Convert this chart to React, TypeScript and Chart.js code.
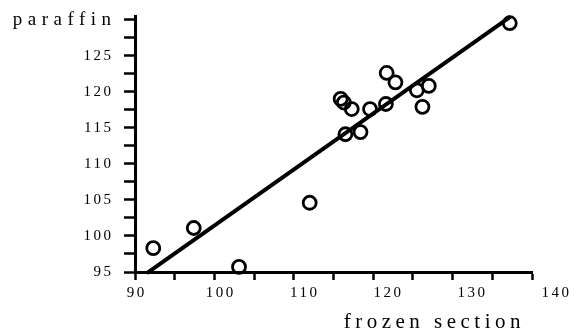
import React, { useEffect, useRef } from "react";
import { Chart, registerables } from "chart.js";

Chart.register(...registerables);

// ---- data ----
const frozenSection = [92.3, 97.4, 103.1, 112.0, 121.7, 122.8, 115.9, 116.3, 117.3, 119.6, 121.6, 125.5, 127.0, 126.2, 116.5, 118.4, 137.2];
const paraffin = [98.3, 101.1, 95.7, 104.6, 122.6, 121.3, 119.0, 118.5, 117.6, 117.6, 118.3, 120.2, 120.8, 117.9, 114.1, 114.4, 129.5];
const fitLineX = [91.5, 137.3];
const fitLineY = [94.85, 130.4];
const xTickValues = [90, 95, 100, 105, 110, 115, 120, 125, 130, 135, 140];
const xLabelValues = [90, 100, 110, 120, 130, 140];
const yTickValues = [95, 97.5, 100, 102.5, 105, 107.5, 110, 112.5, 115, 117.5, 120, 122.5, 125, 127.5, 130];
const yTopLabel = "paraffin";
const xTitle = "frozen section";

const FONT = "'Liberation Serif', 'Times New Roman', serif";

export default function App() {
  const ref = useRef<HTMLCanvasElement | null>(null);

  useEffect(() => {
    document.body.style.margin = "0";
    const canvas = ref.current!;
    const ctx = canvas.getContext("2d") as any;
    const origFill = ctx.fillText;
    ctx.fillText = function (text: string, x: number, y: number, maxWidth?: number) {
      const m = /(\d+(?:\.\d+)?)px/.exec(ctx.font);
      const size = m ? parseFloat(m[1]) : 12;
      const sp = size >= 20 ? 4.5 : size >= 17 ? 5.5 : 2.5;
      let dx = 0;
      if (size < 20) {
        if (ctx.textAlign === "right" || ctx.textAlign === "end") dx = sp;
        else if (ctx.textAlign === "center") dx = sp / 2;
      } else {
        dx = -7;
      }
      const prev = ctx.letterSpacing;
      ctx.letterSpacing = sp + "px";
      if (maxWidth === undefined) origFill.call(ctx, text, x + dx, y);
      else origFill.call(ctx, text, x + dx, y, maxWidth);
      ctx.letterSpacing = prev;
    };

    const points = frozenSection.map((v, i) => ({ x: v, y: paraffin[i] }));
    const line = fitLineX.map((v, i) => ({ x: v, y: fitLineY[i] }));

    const chart = new Chart(canvas, {
      type: "scatter",
      data: {
        datasets: [
          {
            data: points,
            xAxisID: "x",
            yAxisID: "y",
            pointStyle: "circle",
            pointRadius: 6.5,
            borderWidth: 2.8,
            borderColor: "#000",
            backgroundColor: "rgba(0,0,0,0)",
            clip: false as any,
          },
          {
            data: line,
            xAxisID: "x",
            yAxisID: "y",
            showLine: true,
            pointRadius: 0,
            borderWidth: 4,
            borderColor: "#000",
            backgroundColor: "#000",
            clip: false as any,
          },
        ],
      },
      options: {
        animation: false,
        responsive: false,
        layout: { padding: { left: 0, right: 43, top: 16, bottom: 0 } },
        plugins: { legend: { display: false }, tooltip: { enabled: false } },
        scales: {
          x: {
            type: "linear",
            position: "bottom",
            weight: 0,
            min: 90,
            max: 140,
            afterBuildTicks: (s: any) => {
              s.ticks = xTickValues.map((v) => ({ value: v }));
            },
            afterFit: (s: any) => {
              s.height = 10;
            },
            ticks: { display: false },
            grid: { drawOnChartArea: false, drawTicks: true, tickLength: 8, tickWidth: 2.5, color: "#000" },
            border: { display: true, width: 3, color: "#000" },
          },
          x2: {
            type: "linear",
            position: "bottom",
            axis: "x",
            weight: 1,
            min: 89.94,
            max: 137.23,
            afterBuildTicks: (s: any) => {
              s.ticks = xLabelValues.map((v) => ({ value: v }));
            },
            afterFit: (s: any) => {
              s.height = 50;
              s.paddingLeft = 0;
              s.paddingRight = 0;
            },
            ticks: {
              autoSkip: false,
              maxRotation: 0,
              padding: 2,
              color: "#000",
              font: { family: FONT, size: 15 },
              callback: (v: any) => String(v),
            },
            grid: { display: false, drawTicks: false },
            border: { display: false },
            title: {
              display: true,
              text: xTitle,
              align: "end",
              color: "#000",
              font: { family: FONT, size: 21, lineHeight: 0.9 },
              padding: { top: 0, bottom: 0 },
            },
          } as any,
          y: {
            type: "linear",
            position: "left",
            min: 95,
            max: 130.5,
            afterBuildTicks: (s: any) => {
              s.ticks = yTickValues.map((v) => ({ value: v }));
            },
            afterFit: (s: any) => {
              s.width = 135;
              s.paddingTop = 0;
              s.paddingBottom = 0;
            },
            ticks: {
              autoSkip: false,
              padding: 13,
              color: "#000",
              font: (c: any) =>
                c.tick && c.tick.value === 130 ? { family: FONT, size: 19 } : { family: FONT, size: 15 },
              callback: (v: any) => (v === 130 ? yTopLabel : v % 5 === 0 ? String(v) : ""),
            },
            grid: { drawOnChartArea: false, drawTicks: true, tickLength: 11, tickWidth: 2.5, color: "#000" },
            border: { display: true, width: 3, color: "#000" },
          },
        },
      },
    });
    return () => chart.destroy();
  }, []);

  return (
    <div style={{ width: 575, height: 332, background: "#fff" }}>
      <canvas ref={ref} width={575} height={332} style={{ display: "block" }} />
    </div>
  );
}
